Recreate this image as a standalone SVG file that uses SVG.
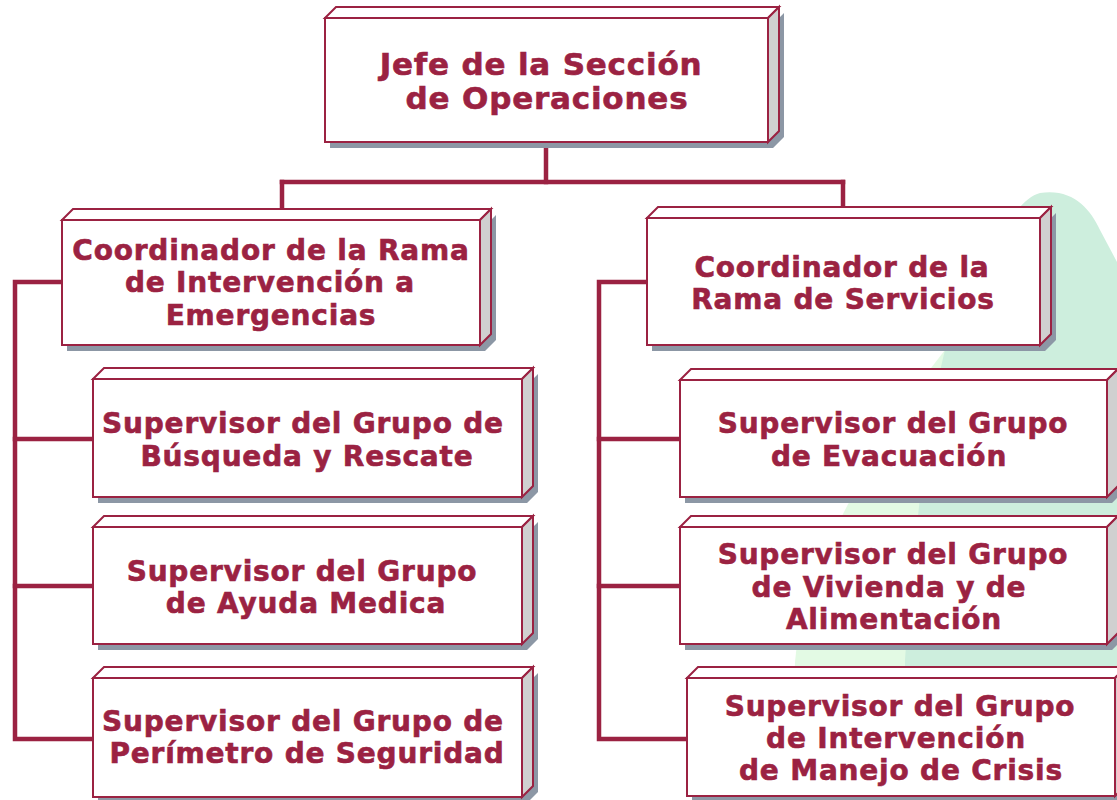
<svg xmlns="http://www.w3.org/2000/svg" width="1117" height="800" viewBox="0 0 1117 800">
<style>
.sh{fill:#8c97a5}
.tp{fill:#ffffff;stroke:#9b2242;stroke-width:2;stroke-linejoin:miter}
.sd{fill:#d0d0d0;stroke:#9b2242;stroke-width:2}
.fr{fill:#ffffff;stroke:#9b2242;stroke-width:2}
.t{font-family:"DejaVu Sans","Open Sans",sans-serif;font-weight:700;font-size:28px;letter-spacing:0.8px;fill:#9b2242;stroke:#9b2242;stroke-width:0.6px;text-anchor:middle}
.tb{font-size:31px}
.cn{fill:none;stroke:#9b2242;stroke-width:4.5;stroke-linecap:square;stroke-linejoin:miter}
</style>
<rect width="1117" height="800" fill="#ffffff"/>
<g id="background">
<path d="M795,700 C790,640 810,580 840,520 C870,460 905,400 945,350 L960,700 Z" fill="#e3fae4"/>
<path d="M1040,193 C1072,188 1090,208 1100,230 L1117,262 L1117,800 L905,800 L905,660 C912,560 925,430 945,350 C975,280 1010,200 1040,193 Z" fill="#cdeedd"/>
</g>
<g id="connectors">
<path class="cn" d="M546,142 V182"/>
<path class="cn" d="M282,182 H843"/>
<path class="cn" d="M282,182 V208"/>
<path class="cn" d="M843,182 V207"/>
<path class="cn" d="M62,282 H15 V739 H93"/>
<path class="cn" d="M15,439 H93"/>
<path class="cn" d="M15,586 H93"/>
<path class="cn" d="M647,282 H599 V739 H687"/>
<path class="cn" d="M599,439 H680"/>
<path class="cn" d="M599,586 H680"/>
</g>
<g id="jefe">
<polygon class="sh" points="330,24 773,24 784,13 784,137 773,148 330,148"/>
<polygon class="tp" points="325,18 336,7 779,7 768,18"/>
<polygon class="sd" points="768,18 779,7 779,131 768,142"/>
<rect class="fr" x="325" y="18" width="443" height="124"/>
<text class="t tb"><tspan x="541" y="75">Jefe de la Sección</tspan><tspan x="547" y="109">de Operaciones</tspan></text>
</g>
<g id="coord-intervencion">
<polygon class="sh" points="67,226 485,226 496,215 496,340 485,351 67,351"/>
<polygon class="tp" points="62,220 73,209 491,209 480,220"/>
<polygon class="sd" points="480,220 491,209 491,334 480,345"/>
<rect class="fr" x="62" y="220" width="418" height="125"/>
<text class="t"><tspan x="271" y="260">Coordinador de la Rama</tspan><tspan x="270" y="292">de Intervención a</tspan><tspan x="271" y="325">Emergencias</tspan></text>
</g>
<g id="coord-servicios">
<polygon class="sh" points="652,224 1045,224 1056,213 1056,340 1045,351 652,351"/>
<polygon class="tp" points="647,218 658,207 1051,207 1040,218"/>
<polygon class="sd" points="1040,218 1051,207 1051,334 1040,345"/>
<rect class="fr" x="647" y="218" width="393" height="127"/>
<text class="t"><tspan x="842" y="277">Coordinador de la</tspan><tspan x="843" y="309">Rama de Servicios</tspan></text>
</g>
<g id="sup-busqueda">
<polygon class="sh" points="98,385 527,385 538,374 538,492 527,503 98,503"/>
<polygon class="tp" points="93,379 104,368 533,368 522,379"/>
<polygon class="sd" points="522,379 533,368 533,486 522,497"/>
<rect class="fr" x="93" y="379" width="429" height="118"/>
<text class="t"><tspan x="303" y="433">Supervisor del Grupo de</tspan><tspan x="307" y="466">Búsqueda y Rescate</tspan></text>
</g>
<g id="sup-ayuda">
<polygon class="sh" points="98,533 527,533 538,522 538,639 527,650 98,650"/>
<polygon class="tp" points="93,527 104,516 533,516 522,527"/>
<polygon class="sd" points="522,527 533,516 533,633 522,644"/>
<rect class="fr" x="93" y="527" width="429" height="117"/>
<text class="t"><tspan x="302" y="581">Supervisor del Grupo</tspan><tspan x="306" y="613">de Ayuda Medica</tspan></text>
</g>
<g id="sup-perimetro">
<polygon class="sh" points="98,684 527,684 538,673 538,792 527,803 98,803"/>
<polygon class="tp" points="93,678 104,667 533,667 522,678"/>
<polygon class="sd" points="522,678 533,667 533,786 522,797"/>
<rect class="fr" x="93" y="678" width="429" height="119"/>
<text class="t"><tspan x="303" y="731">Supervisor del Grupo de</tspan><tspan x="307" y="763">Perímetro de Seguridad</tspan></text>
</g>
<g id="sup-evacuacion">
<polygon class="sh" points="685,386 1112,386 1123,375 1123,492 1112,503 685,503"/>
<polygon class="tp" points="680,380 691,369 1118,369 1107,380"/>
<polygon class="sd" points="1107,380 1118,369 1118,486 1107,497"/>
<rect class="fr" x="680" y="380" width="427" height="117"/>
<text class="t"><tspan x="893" y="433">Supervisor del Grupo</tspan><tspan x="889" y="466">de Evacuación</tspan></text>
</g>
<g id="sup-vivienda">
<polygon class="sh" points="685,533 1112,533 1123,522 1123,639 1112,650 685,650"/>
<polygon class="tp" points="680,527 691,516 1118,516 1107,527"/>
<polygon class="sd" points="1107,527 1118,516 1118,633 1107,644"/>
<rect class="fr" x="680" y="527" width="427" height="117"/>
<text class="t"><tspan x="893" y="564">Supervisor del Grupo</tspan><tspan x="889" y="597">de Vivienda y de</tspan><tspan x="894" y="629">Alimentación</tspan></text>
</g>
<g id="sup-crisis">
<polygon class="sh" points="692,684 1120,684 1131,673 1131,791 1120,802 692,802"/>
<polygon class="tp" points="687,678 698,667 1126,667 1115,678"/>
<polygon class="sd" points="1115,678 1126,667 1126,785 1115,796"/>
<rect class="fr" x="687" y="678" width="428" height="118"/>
<text class="t"><tspan x="900" y="716">Supervisor del Grupo</tspan><tspan x="896" y="748">de Intervención</tspan><tspan x="901" y="780">de Manejo de Crisis</tspan></text>
</g>
</svg>
